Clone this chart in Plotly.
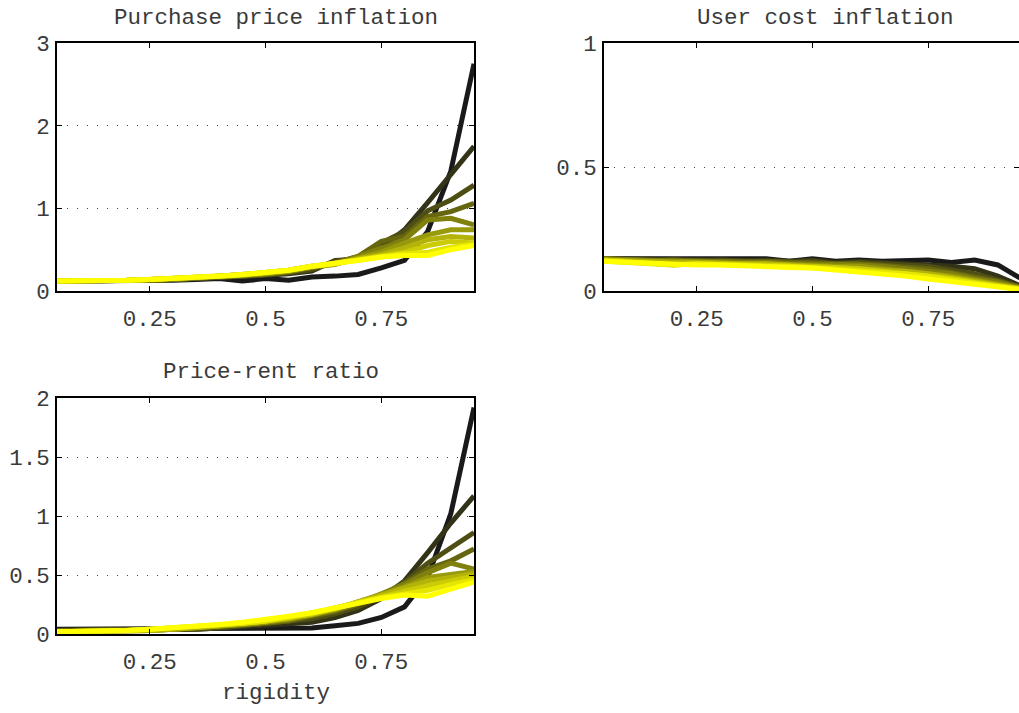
import plotly.graph_objects as go

# rigidity grid
rigidity = [0.05, 0.10, 0.15, 0.20, 0.25, 0.30, 0.35, 0.40, 0.45, 0.50,
            0.55, 0.60, 0.65, 0.70, 0.75, 0.80, 0.85, 0.90, 0.95]

# Purchase price inflation, one series per parameter setting (dark -> yellow)
ppi_0 = [0.12, 0.12, 0.12, 0.12, 0.12, 0.13, 0.14, 0.15, 0.12, 0.15, 0.13, 0.17, 0.18, 0.20, 0.28, 0.37, 0.72, 1.45, 2.75]
ppi_1 = [0.12, 0.12, 0.12, 0.12, 0.13, 0.14, 0.15, 0.16, 0.17, 0.19, 0.21, 0.24, 0.37, 0.38, 0.52, 0.74, 1.07, 1.41, 1.75]
ppi_2 = [0.12, 0.12, 0.12, 0.12, 0.13, 0.14, 0.15, 0.16, 0.18, 0.20, 0.22, 0.26, 0.36, 0.40, 0.58, 0.72, 0.97, 1.10, 1.28]
ppi_3 = [0.12, 0.12, 0.12, 0.13, 0.13, 0.14, 0.15, 0.17, 0.18, 0.20, 0.23, 0.28, 0.34, 0.42, 0.60, 0.66, 0.90, 0.96, 1.06]
ppi_4 = [0.12, 0.12, 0.12, 0.13, 0.13, 0.14, 0.16, 0.17, 0.19, 0.21, 0.24, 0.29, 0.33, 0.42, 0.52, 0.62, 0.86, 0.88, 0.80]
ppi_5 = [0.12, 0.12, 0.13, 0.13, 0.14, 0.15, 0.16, 0.17, 0.19, 0.21, 0.24, 0.29, 0.32, 0.40, 0.47, 0.58, 0.68, 0.74, 0.74]
ppi_6 = [0.12, 0.12, 0.13, 0.13, 0.14, 0.15, 0.16, 0.17, 0.19, 0.22, 0.25, 0.30, 0.33, 0.39, 0.44, 0.52, 0.62, 0.66, 0.64]
ppi_7 = [0.12, 0.12, 0.13, 0.13, 0.14, 0.15, 0.16, 0.18, 0.20, 0.22, 0.25, 0.30, 0.33, 0.38, 0.42, 0.47, 0.55, 0.60, 0.58]
ppi_8 = [0.12, 0.12, 0.13, 0.13, 0.14, 0.15, 0.16, 0.18, 0.20, 0.22, 0.25, 0.30, 0.34, 0.38, 0.41, 0.45, 0.47, 0.53, 0.57]
ppi_9 = [0.12, 0.12, 0.13, 0.13, 0.14, 0.15, 0.17, 0.18, 0.20, 0.22, 0.25, 0.30, 0.33, 0.37, 0.41, 0.43, 0.43, 0.50, 0.55]

# User cost inflation
uci_0 = [0.130, 0.130, 0.125, 0.130, 0.125, 0.130, 0.125, 0.130, 0.120, 0.130, 0.120, 0.125, 0.120, 0.120, 0.125, 0.115, 0.125, 0.105, 0.050]
uci_1 = [0.130, 0.130, 0.125, 0.125, 0.125, 0.125, 0.120, 0.125, 0.120, 0.125, 0.115, 0.120, 0.115, 0.110, 0.110, 0.100, 0.090, 0.060, 0.020]
uci_2 = [0.130, 0.125, 0.125, 0.125, 0.120, 0.125, 0.120, 0.120, 0.115, 0.120, 0.110, 0.115, 0.110, 0.105, 0.100, 0.085, 0.070, 0.045, 0.015]
uci_3 = [0.130, 0.125, 0.120, 0.125, 0.120, 0.120, 0.115, 0.120, 0.115, 0.115, 0.110, 0.110, 0.105, 0.100, 0.090, 0.075, 0.060, 0.040, 0.015]
uci_4 = [0.130, 0.125, 0.120, 0.120, 0.120, 0.120, 0.115, 0.115, 0.110, 0.110, 0.105, 0.105, 0.100, 0.090, 0.080, 0.070, 0.050, 0.035, 0.012]
uci_5 = [0.125, 0.120, 0.120, 0.120, 0.115, 0.115, 0.110, 0.110, 0.105, 0.105, 0.100, 0.100, 0.090, 0.085, 0.075, 0.060, 0.045, 0.030, 0.010]
uci_6 = [0.125, 0.120, 0.115, 0.115, 0.115, 0.110, 0.110, 0.110, 0.105, 0.100, 0.095, 0.095, 0.085, 0.080, 0.070, 0.055, 0.040, 0.025, 0.010]
uci_7 = [0.125, 0.120, 0.115, 0.105, 0.110, 0.110, 0.105, 0.105, 0.100, 0.100, 0.095, 0.090, 0.080, 0.075, 0.065, 0.050, 0.035, 0.020, 0.008]
uci_8 = [0.120, 0.115, 0.110, 0.105, 0.110, 0.105, 0.105, 0.100, 0.100, 0.095, 0.090, 0.085, 0.080, 0.070, 0.060, 0.045, 0.030, 0.018, 0.006]
uci_9 = [0.120, 0.115, 0.110, 0.110, 0.105, 0.105, 0.100, 0.098, 0.095, 0.093, 0.085, 0.078, 0.070, 0.060, 0.048, 0.038, 0.028, 0.016, 0.006]

# Price-rent ratio
prr_0 = [0.04, 0.04, 0.04, 0.04, 0.04, 0.04, 0.04, 0.04, 0.04, 0.04, 0.05, 0.05, 0.07, 0.09, 0.14, 0.23, 0.48, 1.02, 1.92]
prr_1 = [0.03, 0.03, 0.03, 0.03, 0.03, 0.03, 0.04, 0.05, 0.06, 0.07, 0.08, 0.10, 0.14, 0.20, 0.30, 0.45, 0.69, 0.94, 1.17]
prr_2 = [0.03, 0.03, 0.03, 0.03, 0.03, 0.04, 0.04, 0.05, 0.07, 0.08, 0.10, 0.13, 0.17, 0.23, 0.32, 0.44, 0.60, 0.73, 0.86]
prr_3 = [0.03, 0.03, 0.03, 0.03, 0.03, 0.04, 0.05, 0.06, 0.07, 0.09, 0.11, 0.15, 0.19, 0.25, 0.33, 0.43, 0.55, 0.62, 0.72]
prr_4 = [0.02, 0.02, 0.02, 0.03, 0.03, 0.04, 0.05, 0.06, 0.08, 0.10, 0.12, 0.16, 0.20, 0.26, 0.34, 0.42, 0.52, 0.60, 0.55]
prr_5 = [0.02, 0.02, 0.02, 0.03, 0.03, 0.04, 0.05, 0.07, 0.08, 0.10, 0.13, 0.16, 0.21, 0.27, 0.34, 0.40, 0.48, 0.50, 0.53]
prr_6 = [0.02, 0.02, 0.02, 0.03, 0.03, 0.04, 0.05, 0.07, 0.09, 0.11, 0.13, 0.17, 0.21, 0.27, 0.33, 0.38, 0.45, 0.48, 0.51]
prr_7 = [0.02, 0.02, 0.02, 0.03, 0.04, 0.05, 0.06, 0.07, 0.09, 0.11, 0.14, 0.17, 0.22, 0.27, 0.32, 0.36, 0.41, 0.45, 0.49]
prr_8 = [0.02, 0.02, 0.02, 0.03, 0.04, 0.05, 0.06, 0.07, 0.09, 0.11, 0.14, 0.18, 0.22, 0.27, 0.31, 0.34, 0.37, 0.42, 0.46]
prr_9 = [0.02, 0.02, 0.02, 0.03, 0.04, 0.05, 0.06, 0.08, 0.10, 0.12, 0.15, 0.18, 0.22, 0.27, 0.30, 0.33, 0.32, 0.38, 0.44]

ppi_series = [ppi_0, ppi_1, ppi_2, ppi_3, ppi_4, ppi_5, ppi_6, ppi_7, ppi_8, ppi_9]
uci_series = [uci_0, uci_1, uci_2, uci_3, uci_4, uci_5, uci_6, uci_7, uci_8, uci_9]
prr_series = [prr_0, prr_1, prr_2, prr_3, prr_4, prr_5, prr_6, prr_7, prr_8, prr_9]

x_ticks = [0.25, 0.5, 0.75]
x_tick_text = ["0.25", "0.5", "0.75"]
ppi_ticks = [0, 1, 2, 3]
uci_ticks = [0, 0.5, 1]
uci_tick_text = ["0", "0.5", "1"]
prr_ticks = [0, 0.5, 1, 1.5, 2]
prr_tick_text = ["0", "0.5", "1", "1.5", "2"]

W, H = 1019, 713
FONT = "Liberation Mono, Courier New, monospace"
TEXT = "#3a3a3a"
FS = 22.5


def shade(i, n):
    # dark grey to bright yellow
    t = i / (n - 1)
    r = round(26 + (255 - 26) * t)
    b = round(26 * (1 - t))
    return f"rgb({r},{r},{b})"


fig = go.Figure()
for series, xa, ya in [(ppi_series, "x", "y"), (uci_series, "x2", "y2"), (prr_series, "x3", "y3")]:
    n = len(series)
    for i, ys in enumerate(series):
        fig.add_trace(go.Scatter(
            x=rigidity, y=ys, xaxis=xa, yaxis=ya, mode="lines",
            line=dict(color=shade(i, n), width=5), showlegend=False,
            hoverinfo="skip"))


def px_x(p):
    return p / W


def px_y(p):
    return 1 - p / H


def xaxis(domain, rng):
    return dict(domain=domain, range=rng, tickvals=x_ticks, ticktext=x_tick_text,
                ticks="inside", ticklen=5, tickwidth=1, tickcolor="black",
                showline=True, linecolor="black", linewidth=1.5, mirror="ticks",
                showgrid=False, zeroline=False, automargin=False,
                ticklabelstandoff=6,
                tickfont=dict(family=FONT, size=FS, color=TEXT))


def yaxis(domain, rng, vals, text, anchor):
    return dict(domain=domain, range=rng, tickvals=vals, ticktext=text,
                ticks="inside", ticklen=5, tickwidth=1, tickcolor="black",
                showline=True, linecolor="black", linewidth=1.5, mirror="ticks",
                showgrid=True, gridcolor="#444", gridwidth=1, griddash="1px,9px",
                zeroline=False, anchor=anchor, automargin=False,
                ticklabelstandoff=1,
                tickfont=dict(family=FONT, size=FS, color=TEXT))


top_dom = [px_y(291), px_y(43)]
bot_dom = [px_y(634), px_y(398)]
left_dom = [px_x(57), px_x(474)]
right_dom = [px_x(604), 1.0]

fig.update_layout(
    width=W, height=H, autosize=False,
    margin=dict(l=0, r=0, t=0, b=0, pad=0, autoexpand=False),
    showlegend=False,
    paper_bgcolor="white", plot_bgcolor="white",
    xaxis=dict(xaxis(left_dom, [0.05, 0.95]), anchor="y"),
    yaxis=yaxis(top_dom, [0, 3], ppi_ticks, [str(v) for v in ppi_ticks], "x"),
    xaxis2=dict(xaxis(right_dom, [0.05, 0.05 + (W - 604) / 463.3]), anchor="y2"),
    yaxis2=yaxis(top_dom, [0, 1], uci_ticks, uci_tick_text, "x2"),
    xaxis3=dict(xaxis(left_dom, [0.05, 0.95]), anchor="y3"),
    yaxis3=yaxis(bot_dom, [0, 2], prr_ticks, prr_tick_text, "x3"),
)

titles = [
    ("Purchase price inflation", 276, 18),
    ("User cost inflation", 825, 18),
    ("Price-rent ratio", 271, 372),
    ("rigidity", 276, 693),
]
for txt, cx, cy in titles:
    fig.add_annotation(text=txt, x=px_x(cx), y=px_y(cy), xref="paper", yref="paper",
                       xanchor="center", yanchor="middle", showarrow=False,
                       font=dict(family=FONT, size=FS, color=TEXT))

fig.write_html("out.html", config={"responsive": False, "displayModeBar": False},
               post_script="document.body.style.margin='0';document.body.style.overflow='hidden';")
